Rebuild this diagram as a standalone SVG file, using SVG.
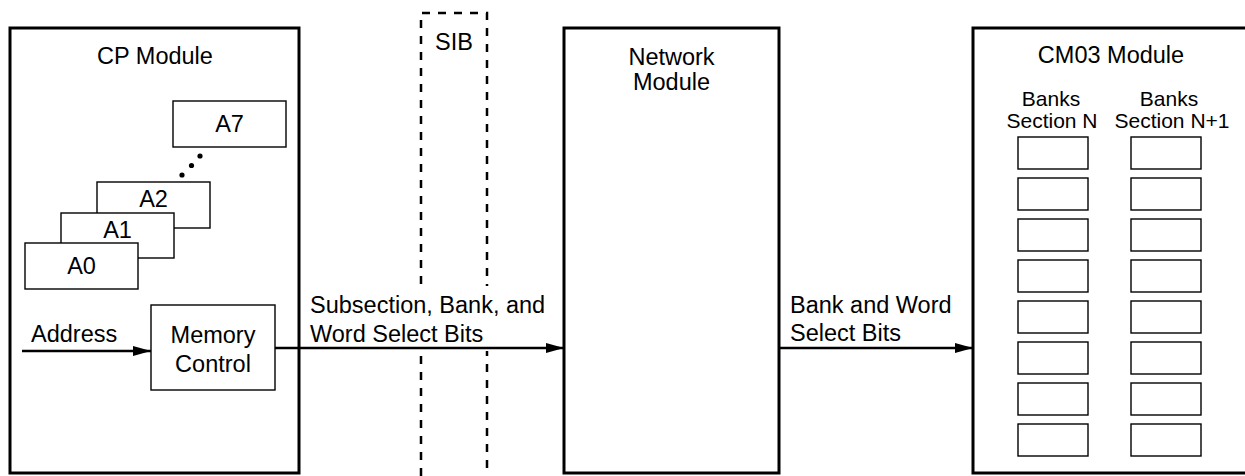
<svg xmlns="http://www.w3.org/2000/svg" width="1245" height="476" viewBox="0 0 1245 476">
  <style>
    text { font-family: "Liberation Sans", Arial, sans-serif; font-size: 23.5px; fill: #000; }
    .mid { text-anchor: middle; }
    .small { font-size: 21px; }
    .module { fill: #fff; stroke: #000; stroke-width: 3; }
    .box { fill: #fff; stroke: #000; stroke-width: 1.4; }
    .sib { fill: none; stroke: #000; stroke-width: 2.5; stroke-dasharray: 8 8; }
    .wire { fill: none; stroke: #000; stroke-width: 2.5; }
  </style>
  <defs>
    <marker id="arrow" viewBox="0 0 18 10" refX="18" refY="5" markerWidth="18" markerHeight="10" markerUnits="userSpaceOnUse" orient="auto">
      <path d="M0,0 L18,5 L0,10 Z" fill="#000"/>
    </marker>
  </defs>

  <rect width="1245" height="476" fill="#fff"/>

  <!-- SIB boundary (dashed) -->
  <g id="sib">
    <path class="sib" d="M421,476 V13 H487 V476"/>
    <text class="mid" x="454" y="50">SIB</text>
  </g>

  <!-- CP module with address registers and memory control -->
  <g id="cp-module">
    <rect class="module" x="10" y="28" width="289" height="445"/>
    <text class="mid" x="155" y="64">CP Module</text>
  </g>

  <g id="a7">
    <rect class="box" x="173" y="101" width="113" height="46"/>
    <text class="mid" x="229.5" y="132">A7</text>
  </g>
  <g id="ellipsis">
    <circle cx="200" cy="156" r="2.6"/>
    <circle cx="191.5" cy="165.5" r="2.6"/>
    <circle cx="182" cy="175" r="2.6"/>
  </g>
  <g id="a2">
    <rect class="box" x="97" y="182" width="113" height="46"/>
    <text class="mid" x="153.5" y="207">A2</text>
  </g>
  <g id="a1">
    <rect class="box" x="61" y="213" width="113" height="45"/>
    <text class="mid" x="117.5" y="238">A1</text>
  </g>
  <g id="a0">
    <rect class="box" x="25" y="243" width="113" height="46"/>
    <text class="mid" x="81.5" y="274">A0</text>
  </g>

  <g id="memory-control">
    <rect class="box" x="151" y="305" width="124" height="85"/>
    <text class="mid" x="213" y="343">Memory</text>
    <text class="mid" x="213" y="372">Control</text>
  </g>

  <!-- Network module -->
  <g id="network-module">
    <rect class="module" x="564" y="28" width="215" height="445"/>
    <text class="mid" x="671.5" y="65">Network</text>
    <text class="mid" x="671.5" y="90">Module</text>
  </g>

  <!-- CM03 module with two bank sections -->
  <g id="cm03-module">
    <rect class="module" x="973" y="28" width="280" height="445"/>
    <text class="mid" x="1111" y="63">CM03 Module</text>
    <text class="mid small" x="1051" y="106">Banks</text>
    <text class="mid small" x="1052" y="128">Section N</text>
    <text class="mid small" x="1169" y="106">Banks</text>
    <text class="mid small" x="1172" y="128">Section N+1</text>
  </g>
  <g id="banks-section-n">
    <rect class="box" x="1018" y="137" width="70" height="32"/>
    <rect class="box" x="1018" y="178" width="70" height="32"/>
    <rect class="box" x="1018" y="219" width="70" height="32"/>
    <rect class="box" x="1018" y="260" width="70" height="32"/>
    <rect class="box" x="1018" y="301" width="70" height="32"/>
    <rect class="box" x="1018" y="342" width="70" height="32"/>
    <rect class="box" x="1018" y="383" width="70" height="32"/>
    <rect class="box" x="1018" y="424" width="70" height="32"/>
  </g>
  <g id="banks-section-n1">
    <rect class="box" x="1131" y="137" width="70" height="32"/>
    <rect class="box" x="1131" y="178" width="70" height="32"/>
    <rect class="box" x="1131" y="219" width="70" height="32"/>
    <rect class="box" x="1131" y="260" width="70" height="32"/>
    <rect class="box" x="1131" y="301" width="70" height="32"/>
    <rect class="box" x="1131" y="342" width="70" height="32"/>
    <rect class="box" x="1131" y="383" width="70" height="32"/>
    <rect class="box" x="1131" y="424" width="70" height="32"/>
  </g>

  <!-- Connectors and their labels -->
  <g id="connectors">
    <rect x="305" y="286" width="250" height="65" fill="#fff"/>
    <line class="wire" x1="22" y1="351" x2="151" y2="351" marker-end="url(#arrow)"/>
    <line class="wire" x1="275" y1="348" x2="564" y2="348" marker-end="url(#arrow)"/>
    <line class="wire" x1="779" y1="348" x2="973" y2="348" marker-end="url(#arrow)"/>
    <text x="31" y="342">Address</text>
    <text x="310" y="313">Subsection, Bank, and</text>
    <text x="310" y="342">Word Select Bits</text>
    <text x="790" y="313">Bank and Word</text>
    <text x="790" y="341">Select Bits</text>
  </g>
</svg>
